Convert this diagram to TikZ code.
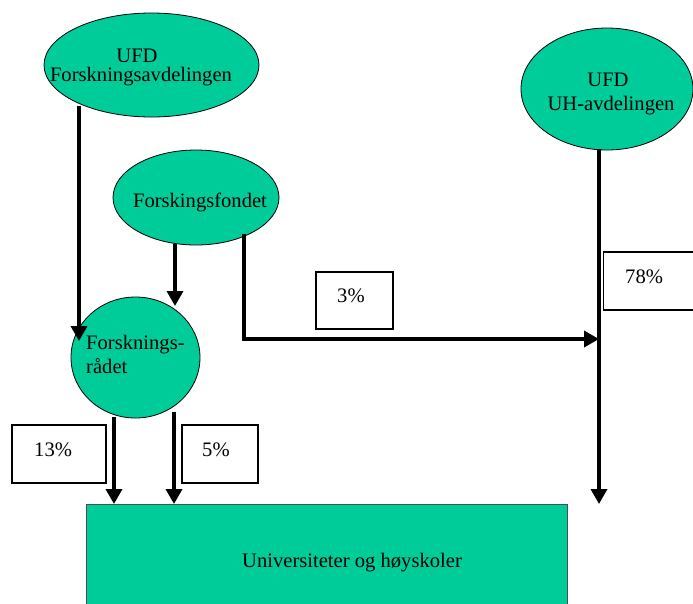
\documentclass[tikz,border=0pt]{standalone}
\usepackage{fontspec}
\setmainfont{Liberation Serif}
\usetikzlibrary{shapes.geometric,arrows.meta}
\definecolor{fillgreen}{RGB}{0,204,153}
\begin{document}
\begin{tikzpicture}[x=1pt,y=-1pt,
  blob/.style={ellipse,draw=black,line width=0.8pt,fill=fillgreen,inner sep=0pt},
  txt/.style={font=\fontsize{20.6}{21}\selectfont,inner sep=0pt,anchor=base},
  txtl/.style={txt,anchor=base west},
  arr/.style={line width=3.5pt,-{Triangle[width=16pt,length=15pt]}},
  pct/.style={draw=black,line width=1.2pt,fill=white,inner sep=0pt}]
\useasboundingbox (0,0) rectangle (693,603);
% ellipses
\node[blob,minimum width=215pt,minimum height=104pt] (ufdf) at (151.5,65) {};
\node[txt] (ufdft1) at (137,62) {UFD};
\node[txt] (ufdft2) at (141,81) {Forskningsavdelingen};
\node[blob,minimum width=166pt,minimum height=95pt] (fond) at (196,197.5) {};
\node[txt] (fondt) at (200,207) {Forskingsfondet};
\node[blob,minimum width=172pt,minimum height=122pt] (ufdu) at (607,89) {};
\node[txt] (ufdut1) at (608,86.7) {UFD};
\node[txt] (ufdut2) at (611,110.7) {UH-avdelingen};
\node[blob,minimum width=129pt,minimum height=121pt] (rad) at (135.5,357.5) {};
\node[txtl] (radt1) at (86,349) {Forsknings-};
\node[txtl] (radt2) at (86,373) {rådet};
% big box
\node[draw=black!70,line width=0.8pt,fill=fillgreen,inner sep=0pt,
      minimum width=481pt,minimum height=110pt,anchor=north west] (uh) at (86,504) {};
\node[txt] (uht) at (352,567) {Universiteter og høyskoler};
% connector coordinates
\coordinate (s1) at (79,106);
\coordinate (t1) at (79,341);
\coordinate (s2) at (175,244);
\coordinate (t2) at (175,306);
\coordinate (s3) at (244,234);
\coordinate (c3) at (244,339);
\coordinate (t3) at (599,339);
\coordinate (s4) at (599,149);
\coordinate (t4) at (599,504);
\coordinate (s5) at (114,417);
\coordinate (t5) at (114,504);
\coordinate (s6) at (174,412);
\coordinate (t6) at (174,504);
\draw[arr] (s1) -- (t1);
\draw[arr] (s2) -- (t2);
\draw[arr] (s3) -- (c3) -- (t3);
\draw[arr] (s4) -- (t4);
\draw[arr] (s5) -- (t5);
\draw[arr] (s6) -- (t6);
% percentage boxes
\node[pct,minimum width=77pt,minimum height=57pt] (b3) at (354.5,300.5) {};
\node[txtl] (b3t) at (337,302) {3\%};
\node[pct,minimum width=100pt,minimum height=58pt,anchor=west] (b78) at (603,281) {};
\node[txtl] (b78t) at (625,283) {78\%};
\node[pct,minimum width=94pt,minimum height=58pt] (b13) at (59,454) {};
\node[txtl] (b13t) at (34,456) {13\%};
\node[pct,minimum width=76pt,minimum height=58pt] (b5) at (220,454) {};
\node[txtl] (b5t) at (202,456) {5\%};
\end{tikzpicture}
\end{document}
